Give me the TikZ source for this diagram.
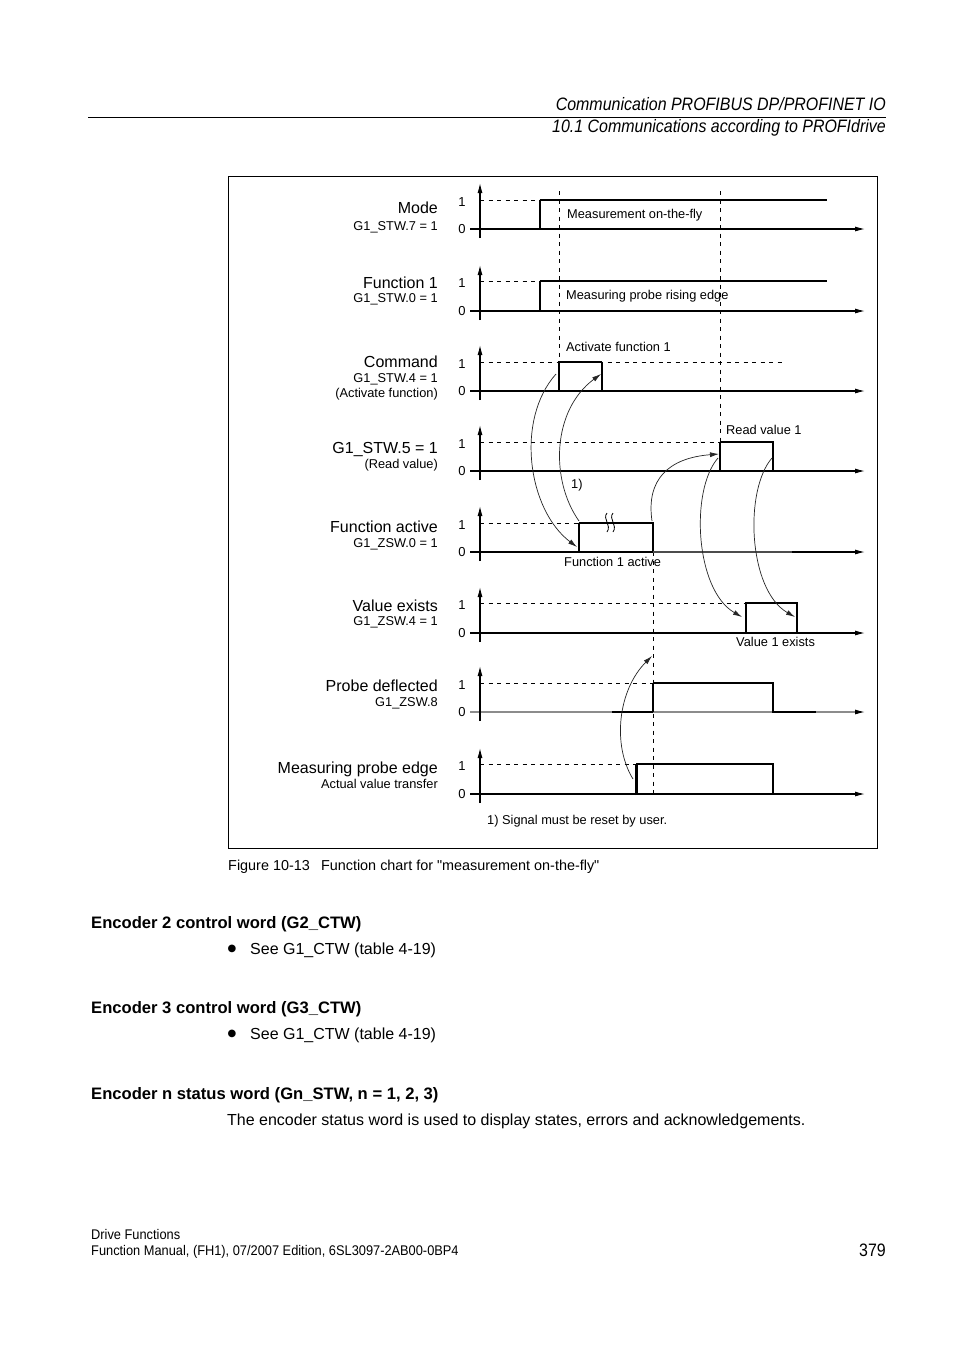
\documentclass[tikz,border=0pt]{standalone}
\usepackage{fontspec}
\setmainfont{Liberation Sans}[Ligatures=TeXOff]
\newfontfamily\dejavu{DejaVu Sans}
\usetikzlibrary{arrows.meta}
\begin{document}
\begin{tikzpicture}[x=1pt,y=-1pt,
  lbl/.style={inner sep=0pt,anchor=base east,font=\fontsize{16}{18}\selectfont},
  sublbl/.style={inner sep=0pt,anchor=base east,font=\fontsize{12.8}{15}\selectfont},
  ann/.style={inner sep=0pt,anchor=base west,font=\fontsize{12.8}{15}\selectfont},
  lvlnum/.style={inner sep=0pt,anchor=base,font=\fontsize{13}{15}\selectfont},
  axisline/.style={line width=1.1pt},
  axarr/.style={-{Latex[length=10pt,width=5pt]}},
  lvl/.style={line width=0.9pt,dash pattern=on 4pt off 4.5pt},
  sig/.style={line width=2.3pt},
  sigthin/.style={line width=1.1pt},
  curv/.style={line width=0.7pt,black!85,-{Latex[length=9pt,width=5pt]}},
  body/.style={inner sep=0pt,anchor=base west,font=\fontsize{16}{18}\selectfont},
  bul/.style={inner sep=0pt,anchor=center,font=\dejavu\fontsize{10}{12}\selectfont},
  head/.style={inner sep=0pt,anchor=base west,font=\fontsize{16.6}{19}\selectfont\bfseries},
]
\useasboundingbox (0,0) rectangle (954,1350);
\fill[white] (0,0) rectangle (954,1350);

% ---------- page header ----------
\node[inner sep=0pt,anchor=base east] (hdr1) at (886,110.5)
  {\fontsize{18}{20}\selectfont\scalebox{0.887}[1]{\itshape Communication PROFIBUS DP/PROFINET IO}};
\draw[line width=1pt] (88,117) -- (886,117);
\node[inner sep=0pt,anchor=base east] (hdr2) at (886,132.5)
  {\fontsize{18}{20}\selectfont\scalebox{0.887}[1]{\itshape 10.1 Communications according to PROFIdrive}};

% ---------- frame ----------
\draw[line width=1pt] (228,176) rectangle (877,848);

% ---------- axes ----------
\foreach \a/\b/\c [count=\i] in {200/229/black,281/311/black,362/391/black,442/471/black,523/552/black,603/633/black,683/712/black!45,764/794/black} {
  \draw[axisline,\c] (470,\b) -- (857,\b);
  \draw[axisline,axarr] (855,\b) -- (865,\b);
  \draw[axisline,axarr] (480,\b+9) -- (480,\b-46);
  \node[lvlnum] (one\i) at (462,\a+6.7) {1};
  \node[lvlnum] (zero\i) at (462,\b+4.7) {0};
}

% ---------- left labels ----------
\node[lbl] (mode) at (438,213.8) {Mode};
\node[sublbl] (modes) at (438,230.6) {G1\_STW.7 = 1};
\node[lbl] (fone) at (438,288.8) {Function 1};
\node[sublbl] (fones) at (438,302.6) {G1\_STW.0 = 1};
\node[lbl] (cmd) at (438,367.8) {Command};
\node[sublbl] (cmds) at (438,382.6) {G1\_STW.4 = 1};
\node[sublbl] (cmdt) at (438,397.6) {(Activate function)};
\node[lbl] (stw) at (438,453.8) {G1\_STW.5 = 1};
\node[sublbl] (stws) at (438,468.6) {(Read value)};
\node[lbl] (fa) at (438,532.8) {Function active};
\node[sublbl] (fas) at (438,547.6) {G1\_ZSW.0 = 1};
\node[lbl] (ve) at (438,611.8) {Value exists};
\node[sublbl] (ves) at (438,625.6) {G1\_ZSW.4 = 1};
\node[lbl] (pd) at (438,691.8) {Probe deflected};
\node[sublbl] (pds) at (438,706.6) {G1\_ZSW.8};
\node[lbl] (mpe) at (438,773.3) {Measuring probe edge};
\node[sublbl] (mpes) at (438,788.1) {Actual value transfer};

% ---------- level-1 dashed lines ----------
\draw[lvl] (480,200) -- (540,200);
\draw[lvl] (480,281) -- (540,281);
\draw[lvl] (480,362) -- (785,362);
\draw[lvl] (480,442) -- (720,442);
\draw[lvl] (480,523) -- (579,523);
\draw[lvl] (480,603) -- (746,603);
\draw[lvl] (480,683) -- (653,683);
\draw[lvl] (480,764) -- (636,764);

% ---------- vertical dashed lines ----------
\draw[lvl] (559,191) -- (559,362);
\draw[lvl] (720,191) -- (720,442);
\draw[lvl] (653,552) -- (653,797);

% ---------- signals ----------
% Mode
\draw[sigthin] (540,229) -- (540,200);
\draw[sig] (539.5,200) -- (827,200);
% Function 1
\draw[sigthin] (540,311) -- (540,281);
\draw[sig] (539.5,281) -- (827,281);
% Command
\draw[sig] (513,391) -- (559,391);
\draw[sigthin] (559,391) -- (559,362) -- (602,362);
\draw[sig] (602,361.5) -- (602,391) -- (648,391);
% G1_STW.5
\draw[sig] (663,471) -- (720,471);
\draw[sigthin] (720,471) -- (720,442);
\draw[sig] (719.5,442) -- (773,442) -- (773,471) -- (830,471);
% Function active
\draw[sig] (492,552) -- (579,552);
\draw[sigthin] (579,552) -- (579,523);
\draw[sig] (578.5,523) -- (653,523) -- (653,552);
\draw[line width=1.8pt,black!70] (653,552) -- (792,552);
\draw[line width=0.8pt] (607,513) .. controls (602,519) and (612,525) .. (607,532);
\draw[line width=0.8pt] (613,513) .. controls (608,519) and (618,525) .. (613,532);
% Value exists
\draw[sigthin] (746,633) -- (746,603) -- (797,603) -- (797,633);
% Probe deflected
\draw[sig] (612,712) -- (653,712);
\draw[sigthin] (653,712) -- (653,683);
\draw[sig] (652.5,683) -- (773,683) -- (773,712) -- (816,712);
% Measuring probe edge
\draw[sig] (548,794) -- (636,794);
\draw[line width=3pt] (636,795) -- (636,764);
\draw[sigthin] (636,764) -- (773,764) -- (773,794);
\draw[sig] (773,794) -- (820,794);

% ---------- annotations ----------
\node[ann] (t1) at (567,218.6) {Measurement on-the-fly};
\node[ann] (t2) at (566,299.6) {Measuring probe rising edge};
\node[ann] (t3) at (566,351.6) {Activate function 1};
\node[ann] (t4) at (726,434.6) {Read value 1};
\node[ann] (t5) at (571,488.6) {1)};
\node[ann] (t6) at (564,566.6) {Function 1 active};
\node[ann] (t7) at (736,646.6) {Value 1 exists};
\node[ann] (t8) at (487,824.6) {1) Signal must be reset by user.};

% ---------- curved arrows ----------
\coordinate (cmdrise) at (556,374);
\coordinate (farisein) at (577,547);
\coordinate (farise) at (579,521);
\coordinate (cmdfall) at (601,374);
\coordinate (fafall) at (652,521);
\coordinate (rvrisein) at (719,454);
\coordinate (rvrise) at (718,458);
\coordinate (verise) at (742,617);
\coordinate (rvfall) at (772,458);
\coordinate (vefall) at (795,617);
\coordinate (mperise) at (633,779);
\coordinate (pdrise) at (652,656);
\draw[curv] (cmdrise) .. controls (515,420) and (528,510) .. (farisein);
\draw[curv] (farise) .. controls (550,480) and (552,410) .. (cmdfall);
\draw[curv] (fafall) .. controls (646,480) and (668,458) .. (rvrisein);
\draw[curv] (rvrise) .. controls (690,490) and (695,590) .. (verise);
\draw[curv] (rvfall) .. controls (744,490) and (748,590) .. (vefall);
\draw[curv] (mperise) .. controls (612,745) and (618,690) .. (pdrise);

% ---------- page text ----------
\node[inner sep=0pt,anchor=base west,font=\fontsize{14.4}{17}\selectfont] (cap) at (228,870.2)
  {Figure 10-13\hspace{0.5em} Function chart for "measurement on-the-fly"};
\node[head] (h1) at (91,928) {Encoder 2 control word (G2\_CTW)};
\node[bul] (b1) at (232,949) {●};
\node[body] (s1) at (250,954.8) {See G1\_CTW (table 4-19)};
\node[head] (h2) at (91,1013) {Encoder 3 control word (G3\_CTW)};
\node[bul] (b2) at (232,1034) {●};
\node[body] (s2) at (250,1039.8) {See G1\_CTW (table 4-19)};
\node[head] (h3) at (91,1099) {Encoder n status word (Gn\_STW, n = 1, 2, 3)};
\node[body] (p1) at (227,1125.8) {The encoder status word is used to display states, errors and acknowledgements.};

% ---------- footer ----------
\node[inner sep=0pt,anchor=base west] (f1) at (91,1239)
  {\fontsize{14}{16}\selectfont\scalebox{0.915}[1]{Drive Functions}};
\node[inner sep=0pt,anchor=base west] (f2) at (91,1255)
  {\fontsize{14}{16}\selectfont\scalebox{0.915}[1]{Function Manual, (FH1), 07/2007 Edition, 6SL3097-2AB00-0BP4}};
\node[inner sep=0pt,anchor=base east] (f3) at (886,1256)
  {\fontsize{18}{20}\selectfont\scalebox{0.887}[1]{379}};
\end{tikzpicture}
\end{document}
